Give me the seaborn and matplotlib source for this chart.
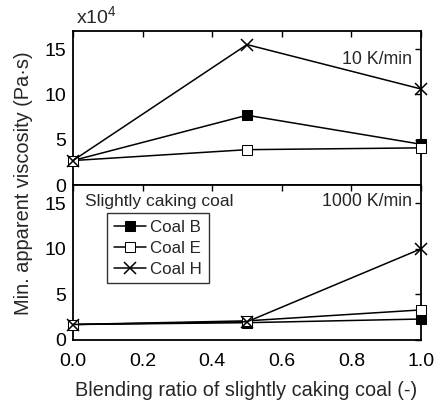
import matplotlib
matplotlib.use("Agg")
import matplotlib.pyplot as plt
import seaborn as sns
import pandas as pd

# Blending ratio of the slightly caking coal
ratio = [0.0, 0.5, 1.0]

# Minimum apparent viscosity (x10^4 Pa·s), heating rate 10 K/min
slow_b = [2.7, 7.7, 4.5]
slow_e = [2.7, 3.9, 4.1]
slow_h = [2.7, 15.5, 10.6]

# Minimum apparent viscosity (x10^4 Pa·s), heating rate 1000 K/min
fast_b = [1.7, 1.9, 2.3]
fast_e = [1.7, 2.1, 3.3]
fast_h = [1.7, 2.0, 10.0]

coal_names = ["Coal B", "Coal E", "Coal H"]
rate_labels = ["10 K/min", "1000 K/min"]
x_ticks = [0.0, 0.2, 0.4, 0.6, 0.8, 1.0]
y_ticks = [0, 5, 10, 15]

sns.set_theme(style="white")
plt.rcParams["font.family"] = ["Liberation Sans", "DejaVu Sans"]
plt.rcParams["mathtext.fontset"] = "custom"
plt.rcParams["mathtext.rm"] = "Liberation Sans"
plt.rcParams["mathtext.it"] = "Liberation Sans"

fig = plt.figure(figsize=(4.43, 4.05), dpi=100)
left, width = 73 / 443, (421 - 73) / 443
ax_top = fig.add_axes([left, 1 - 185 / 405, width, (185 - 31) / 405])
ax_bot = fig.add_axes([left, 1 - 340 / 405, width, (340 - 185) / 405])

styles = {
    "Coal B": dict(marker="s", markersize=7, markerfacecolor="black", markeredgecolor="black"),
    "Coal E": dict(marker="s", markersize=7, markerfacecolor="white", markeredgecolor="black"),
    "Coal H": dict(marker="x", markersize=8, markeredgecolor="black", markeredgewidth=1.1),
}

panels = [
    (ax_top, [slow_b, slow_e, slow_h]),
    (ax_bot, [fast_b, fast_e, fast_h]),
]

for ax, series in panels:
    for name, vals in zip(coal_names, series):
        df = pd.DataFrame({"ratio": ratio, "visc": vals})
        sns.lineplot(data=df, x="ratio", y="visc", ax=ax, color="black",
                     linewidth=1.1, label=name, clip_on=False, zorder=3,
                     **styles[name])
    ax.set_xlim(0, 1.0)
    ax.set_ylim(0, 17)
    ax.set_xticks(x_ticks)
    ax.set_yticks(y_ticks)
    ax.set_xlabel("")
    ax.set_ylabel("")
    ax.tick_params(direction="in", top=True, right=True, length=4, width=1,
                   colors="black", labelsize=14)
    ax.tick_params(axis="y", pad=5)
    ax.tick_params(axis="x", pad=9)
    for sp in ax.spines.values():
        sp.set_color("black")
        sp.set_linewidth(1.3)
    if ax.get_legend() is not None:
        ax.get_legend().remove()

ax_top.tick_params(labelbottom=False)
ax_bot.set_xticklabels([f"{t:.1f}" for t in x_ticks])

ax_top.text(0.975, 13.8, rate_labels[0], transform=ax_top.get_yaxis_transform(),
            ha="right", va="center", fontsize=12.8)
ax_bot.text(0.975, 15.2, rate_labels[1], transform=ax_bot.get_yaxis_transform(),
            ha="right", va="center", fontsize=12.8)
ax_bot.text(0.035, 15.2, "Slightly caking coal", transform=ax_bot.get_yaxis_transform(),
            ha="left", va="center", fontsize=12.5)

ax_top.text(0.008, 1.025, r"x10$^4$", transform=ax_top.transAxes,
            ha="left", va="bottom", fontsize=14)

handles, labels = ax_bot.get_legend_handles_labels()
leg = ax_bot.legend(handles, labels, loc="upper left",
                    bbox_to_anchor=((107 - 73) / 348, (340 - 213) / 155),
                    borderaxespad=0, fancybox=False, frameon=True,
                    edgecolor="black", fontsize=12.2, handlelength=1.9,
                    handletextpad=0.25, labelspacing=0.35, borderpad=0.4)
leg.get_frame().set_linewidth(1.0)

fig.text(24 / 443, 1 - 183 / 405, "Min. apparent viscosity (Pa·s)",
         rotation=90, ha="center", va="center", fontsize=14.4)
fig.text(246 / 443, 1 - 390 / 405, "Blending ratio of slightly caking coal (-)",
         ha="center", va="center", fontsize=14.3)

fig.savefig("out.png", dpi=100)
